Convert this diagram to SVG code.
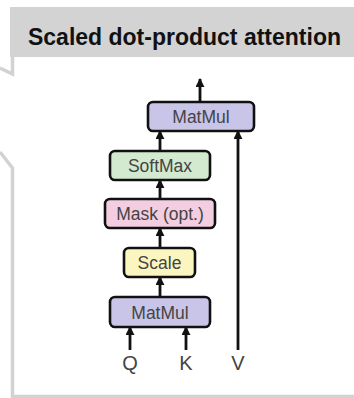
<svg xmlns="http://www.w3.org/2000/svg" width="354" height="398" viewBox="0 0 354 398">
  <defs>
    <marker id="arrow" viewBox="0 0 10 10" refX="9" refY="5" markerWidth="9" markerHeight="9" markerUnits="userSpaceOnUse" orient="auto">
      <path d="M0,0 L10,5 L0,10 z" fill="#111"/>
    </marker>
    <style>
      .frame { fill: none; stroke: #d2d2d2; stroke-width: 3.5; }
      .node rect { stroke: #111; stroke-width: 2.6; }
      .node text, .io { font-family: "Liberation Sans", Arial, sans-serif; font-size: 17.5px; fill: #444; text-anchor: middle; }
      .io { font-size: 20px; }
      .matmul rect { fill: #c9c5e8; }
      .softmax rect { fill: #d3ead0; }
      .mask rect { fill: #f3cde0; }
      .scale rect { fill: #fbf5c0; }
      .edge { stroke: #111; stroke-width: 2.8; fill: none; marker-end: url(#arrow); }
    </style>
  </defs>

  <rect width="354" height="398" fill="#ffffff"/>

  <!-- header band and frame outline -->
  <rect x="10" y="7" width="344" height="50" fill="#d3d3d3"/>
  <text x="184.5" y="45" font-family="Liberation Sans, Arial, sans-serif" font-size="23" font-weight="bold" fill="#111" text-anchor="middle">Scaled dot-product attention</text>
  <path class="frame" d="M0,68 L12.5,74 L12.5,57"/>
  <path class="frame" d="M0,152 L12.5,168 L12.5,396.5 L354,396.5"/>

  <!-- connectors -->
  <g id="connectors">
    <line class="edge" x1="200" y1="102" x2="200" y2="79"/>
    <line class="edge" x1="160" y1="151" x2="160" y2="131"/>
    <line class="edge" x1="160" y1="199" x2="160" y2="180"/>
    <line class="edge" x1="160" y1="248" x2="160" y2="228"/>
    <line class="edge" x1="160" y1="297" x2="160" y2="277"/>
    <line class="edge" x1="130" y1="350" x2="130" y2="327"/>
    <line class="edge" x1="186" y1="350" x2="186" y2="327"/>
    <line class="edge" x1="238" y1="350" x2="238" y2="131"/>
  </g>

  <g id="matmul-top" class="node matmul">
    <rect x="148" y="102" width="106" height="29" rx="5"/>
    <text x="201" y="123">MatMul</text>
  </g>
  <g id="softmax" class="node softmax">
    <rect x="110" y="151" width="100" height="29" rx="5"/>
    <text x="160" y="172">SoftMax</text>
  </g>
  <g id="mask" class="node mask">
    <rect x="105" y="199" width="110" height="29" rx="5"/>
    <text x="160" y="220">Mask (opt.)</text>
  </g>
  <g id="scale" class="node scale">
    <rect x="124" y="248" width="71" height="29" rx="5"/>
    <text x="159.5" y="269">Scale</text>
  </g>
  <g id="matmul-bottom" class="node matmul">
    <rect x="110" y="297" width="100" height="30" rx="5"/>
    <text x="160" y="319">MatMul</text>
  </g>

  <g id="inputs">
    <text class="io" x="130" y="370">Q</text>
    <text class="io" x="186" y="370">K</text>
    <text class="io" x="238" y="370">V</text>
  </g>
</svg>
